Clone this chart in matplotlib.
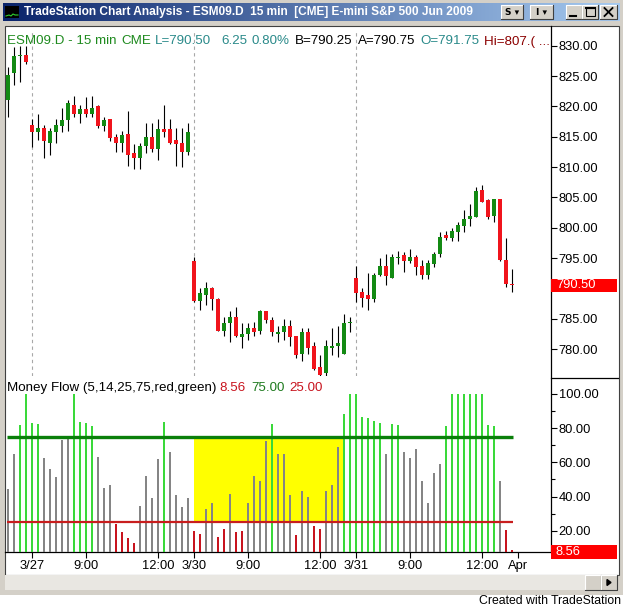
"""TradeStation screenshot: ESM09 15 min candles + Money Flow histogram."""
import matplotlib
matplotlib.use("Agg")
import matplotlib.pyplot as plt
import numpy as np
from matplotlib.patches import Rectangle

W, H = 623, 608
plt.rcParams["font.family"] = ["Liberation Sans", "DejaVu Sans"]

# ── data ───────────────────────────────────────────────────────────────────
opens = [821.0, 825.5, 828.25, 828.5,
         817.0, 815.75, 816.5, 814.0, 815.75, 816.75, 817.75, 820.25, 818.75, 819.5,
         818.75, 820.0, 816.75, 818.0, 815.0, 814.0, 815.5, 812.25, 811.5, 813.5,
         815.0, 813.0, 816.25, 816.25, 814.5, 814.0, 812.5,
         794.5, 788.0, 789.0, 790.0, 788.25, 783.0, 784.25, 785.25, 782.0, 782.5,
         783.5, 783.0, 786.25, 784.75, 782.5, 782.75, 783.75, 782.25, 779.25, 782.75,
         780.5, 777.0, 776.0, 780.25, 780.5, 779.25, 784.25,
         791.75, 789.5, 789.0, 788.25, 792.25, 793.75, 791.75, 795.0, 795.5, 794.5,
         795.25, 793.75, 792.25, 794.0, 795.75, 798.75, 798.25, 799.25, 800.25, 801.5,
         801.75, 806.25, 804.5, 802.0, 804.75, 794.75, 790.75]
highs = [826.5, 829.75, 830.0, 830.0,
         818.0, 818.75, 817.0, 816.5, 818.0, 819.75, 821.0, 821.75, 820.25, 821.5,
         821.75, 820.25, 818.25, 818.0, 815.5, 816.0, 819.25, 813.75, 814.0, 817.25,
         817.25, 818.0, 820.25, 818.0, 816.5, 816.5, 817.25,
         795.25, 790.0, 791.0, 790.25, 788.5, 785.25, 786.25, 787.0, 784.25, 784.25,
         784.5, 786.5, 786.25, 785.25, 783.75, 785.0, 784.75, 782.25, 783.5, 783.5,
         781.25, 779.0, 781.5, 783.5, 783.75, 785.75, 785.25,
         793.75, 790.0, 792.5, 792.5, 795.0, 795.75, 795.75, 796.25, 796.0, 796.5,
         795.5, 794.75, 794.75, 796.0, 799.25, 799.5, 800.0, 801.0, 803.0, 804.0,
         806.75, 807.0, 804.75, 804.75, 804.75, 798.25, 793.25]
lows = [818.25, 823.5, 824.0, 827.0,
        813.25, 814.5, 811.5, 812.0, 814.0, 815.75, 816.0, 818.25, 817.25, 818.25,
        818.25, 816.5, 816.0, 814.25, 812.5, 812.5, 810.25, 809.75, 809.75, 812.25,
        812.5, 811.25, 815.0, 813.75, 810.25, 810.0, 812.0,
        787.75, 786.5, 787.25, 786.5, 783.0, 782.25, 781.25, 782.0, 780.25, 781.5,
        782.25, 782.5, 784.25, 782.25, 781.25, 781.5, 780.5, 778.5, 778.0, 779.25,
        776.5, 775.5, 775.5, 779.0, 778.75, 779.25, 782.75,
        787.75, 787.0, 786.5, 787.75, 792.0, 790.5, 791.75, 794.0, 792.75, 794.25,
        792.25, 791.5, 791.5, 793.5, 795.25, 798.0, 797.75, 797.75, 799.25, 800.25,
        801.75, 804.25, 801.5, 801.0, 794.5, 790.25, 789.5]
closes = [825.25, 828.25, 828.5, 827.25,
          815.75, 816.5, 814.25, 816.0, 817.0, 817.75, 820.5, 818.75, 819.5, 818.75,
          819.75, 816.75, 817.75, 814.75, 814.0, 815.25, 812.0, 811.5, 813.5, 815.0,
          813.0, 816.25, 815.75, 814.0, 813.75, 812.5, 815.75,
          788.0, 789.25, 790.0, 788.25, 783.0, 784.25, 785.25, 782.25, 782.5, 783.5,
          782.75, 786.25, 784.75, 782.75, 782.75, 783.75, 782.0, 779.0, 782.75, 780.25,
          776.75, 775.75, 780.5, 780.5, 781.0, 784.25, 784.5,
          789.25, 788.5, 788.25, 792.25, 793.75, 792.0, 795.25, 795.25, 794.5, 795.25,
          793.5, 792.25, 794.25, 795.75, 798.5, 798.25, 799.5, 800.5, 801.5, 802.0,
          806.0, 804.25, 801.75, 804.75, 794.75, 790.75, 790.5]
money_flow = [44.4, 65.1, 81.9, 100.0,
              83.0, 82.4, 62.8, 56.1, 51.6, 73.1, 74.6, 100.0, 83.6, 83.0,
              81.3, 63.3, 45.0, 47.0, 23.7, 19.4, 15.6, 12.8, 34.5, 52.2,
              39.2, 62.0, 83.6, 66.1, 41.1, 33.9, 39.2,
              20.0, 18.1, 32.7, 36.4, 16.3, 21.0, 41.5, 19.3, 19.8, 36.2,
              52.2, 49.1, 72.5, 82.3, 64.9, 64.9, 40.9, 17.5, 43.3, 39.7,
              22.8, 21.0, 43.3, 47.0, 69.0, 88.3, 100.0,
              100.0, 86.5, 86.0, 84.4, 83.0, 64.9, 82.4, 81.9, 66.1, 62.8,
              67.8, 49.1, 36.4, 53.8, 59.0, 81.3, 100.0, 100.0, 100.0, 100.0,
              100.0, 100.0, 81.9, 81.3, 49.1, 20.4, 8.56]
session_starts = [4, 31, 58]
time_ticks = [4, 13, 25, 31, 40, 52, 58, 67, 79, 85]
time_labels = ["3/27", "9:00", "12:00", "3/30", "9:00", "12:00", "3/31", "9:00", "12:00", "Apr"]
price_ticks = [780, 785, 790, 795, 800, 805, 810, 815, 820, 825, 830]
mf_ticks = [20, 40, 60, 80, 100]
mf_minor = [30, 50, 70, 90]
overbought, oversold = 75, 25
last_price, last_mf = 790.50, 8.56

# ── colours ────────────────────────────────────────────────────────────────
CANDLE_UP = "#138a13"
CANDLE_DN = "#f0141c"
MF_UP = "#3ad93a"
MF_DN = "#c8141e"
MF_MID = "#858585"
FRAME = "#d4d0c8"


def px_axes(fig, x0, y0, x1, y1, **kw):
    """Axes placed by pixel box (top-left origin)."""
    return fig.add_axes([x0 / W, 1 - y1 / H, (x1 - x0) / W, (y1 - y0) / H], **kw)


def button(ax, x0, y0, x1, y1, label="", size=8, bold=False):
    ax.add_patch(Rectangle((x0, y0), x1 - x0, y1 - y0, facecolor=FRAME,
                           edgecolor="none", zorder=3))
    ax.plot([x0, x0, x1], [y1, y0, y0], color="white", lw=0.8, zorder=4)
    ax.plot([x0, x1, x1], [y1, y1, y0], color="#404040", lw=0.8, zorder=4)
    if label:
        ax.text((x0 + x1) / 2, (y0 + y1) / 2 + 0.5, label, ha="center", va="center",
                fontsize=size, fontweight="bold" if bold else "normal", zorder=5,
                family=["DejaVu Sans"])


def main() -> None:
    fig = plt.figure(figsize=(W / 100, H / 100), dpi=100)

    # ── window chrome ──────────────────────────────────────────────────────
    bg = px_axes(fig, 0, 0, W, H, zorder=0)
    bg.set_xlim(0, W)
    bg.set_ylim(H, 0)
    bg.axis("off")
    bg.add_patch(Rectangle((0, 0), W, 595, facecolor=FRAME, edgecolor="none"))
    grad = np.linspace(0, 1, 256)[None, :, None]
    c0 = np.array([10, 36, 106]) / 255
    c1 = np.array([166, 202, 240]) / 255
    bg.imshow(c0 + (c1 - c0) * grad, extent=(3, 620, 21, 3), aspect="auto", zorder=1)
    # little chart icon
    bg.add_patch(Rectangle((5, 6), 14, 12, facecolor="black", zorder=2))
    bg.plot([6, 9, 11, 13, 15, 18], [16, 15, 16, 14, 15, 15], color="#30d030", lw=0.8, zorder=3)
    bg.text(24, 12.5, "TradeStation Chart Analysis - ESM09.D  15 min  [CME] E-mini S&P 500 Jun 2009",
            color="white", fontsize=8.6, fontweight="bold", va="center", zorder=3)
    button(bg, 501, 5, 523, 19, "S \u25be", 6.5, True)
    button(bg, 530, 5, 553, 19, "I \u25be", 6.5, True)
    button(bg, 566, 5, 582, 19)
    bg.plot([570, 576], [15.5, 15.5], color="black", lw=1.5, zorder=5)
    button(bg, 582, 5, 598, 19)
    bg.add_patch(Rectangle((585.5, 7.5), 9, 8.5, facecolor="none", edgecolor="black",
                           lw=0.8, zorder=5))
    bg.plot([585.5, 594.5], [8.3, 8.3], color="black", lw=1.5, zorder=5)
    button(bg, 600, 5, 617, 19)
    bg.plot([604.5, 612.5], [8, 16], color="black", lw=1.3, zorder=5)
    bg.plot([604.5, 612.5], [16, 8], color="black", lw=1.3, zorder=5)

    # chart area
    bg.add_patch(Rectangle((4.5, 25.5), 614, 549, facecolor="white",
                           edgecolor="#404040", lw=0.8, zorder=1))
    # scrollbar
    bg.add_patch(Rectangle((5, 575), 613, 15, facecolor="#e9e7e2", edgecolor="none",
                           hatch="....", zorder=1))
    button(bg, 585, 575, 601, 590)
    button(bg, 601, 575, 617, 590)
    bg.fill([607, 607, 611], [579.5, 585.5, 582.5], color="black", zorder=5)
    bg.text(621, 601, "Created with TradeStation", ha="right", va="center",
            fontsize=8.8, color="black")

    # axis lines of the chart (scale column and bottom time axis)
    bg.plot([551, 551], [26, 552], color="black", lw=0.9, zorder=3)
    bg.plot([5, 551], [552, 552], color="black", lw=0.9, zorder=3)
    bg.plot([551, 618], [377.5, 377.5], color="black", lw=0.9, zorder=3)

    x = np.arange(len(closes))
    o, hi, lo, c = (np.array(v) for v in (opens, highs, lows, closes))

    # ── price panel ────────────────────────────────────────────────────────
    ax = px_axes(fig, 5, 30, 551, 376, zorder=2)
    ax.patch.set_alpha(0)
    ax.set_xlim(-0.5, 90.5)
    ax.set_ylim(775.58, 832.59)
    for s in session_starts:
        ax.axvline(s, color="#a8a8a8", lw=0.8, ls=(0, (3, 3)), zorder=1)
    up = c >= o
    ax.vlines(x, lo, hi, color="black", lw=0.8, zorder=2)
    body = np.maximum(np.abs(c - o), 0.17)
    ax.bar(x, body, bottom=np.minimum(o, c), width=0.82, linewidth=0,
           color=np.where(up, CANDLE_UP, CANDLE_DN), zorder=3)
    for sp in ax.spines.values():
        sp.set_visible(False)
    ax.set_xticks([])
    ax.yaxis.tick_right()
    ax.set_yticks(price_ticks)
    # the last-price box hides the 790 label
    ax.set_yticklabels(["" if abs(p - last_price) < 2.5 else f"{p:.2f}" for p in price_ticks])
    ax.tick_params(axis="y", direction="out", length=4, width=0.8, pad=1.5, labelsize=9.3)

    # ── money flow panel ───────────────────────────────────────────────────
    ax2 = px_axes(fig, 5, 378, 551, 552, zorder=2)
    ax2.patch.set_alpha(0)
    ax2.set_xlim(-0.5, 90.5)
    ax2.set_ylim(7.55, 109.36)
    ax2.add_patch(Rectangle((31, oversold), 24.8, overbought - oversold,
                            facecolor="#ffff00", edgecolor="none", zorder=1))
    mf = np.array(money_flow)
    cols = np.where(mf > overbought, MF_UP, np.where(mf < oversold, MF_DN, MF_MID))
    widths = np.where(mf > overbought, 0.47, 0.4)
    ax2.bar(x, mf, width=widths, color=cols, linewidth=0, zorder=2)
    ax2.plot([-0.2, 84.2], [overbought] * 2, color="#0a7f0a", lw=2.4, zorder=3,
             solid_capstyle="butt")
    ax2.plot([-0.2, 84.2], [oversold] * 2, color="#c81e1e", lw=1.6, zorder=3,
             solid_capstyle="butt")
    for sp in ax2.spines.values():
        sp.set_visible(False)
    ax2.yaxis.tick_right()
    ax2.set_yticks(mf_ticks)
    ax2.set_yticklabels([f"{v:.2f}" for v in mf_ticks])
    ax2.set_yticks(mf_minor, minor=True)
    ax2.tick_params(axis="y", which="major", direction="out", length=4, width=0.8,
                    pad=1.5, labelsize=9.3)
    ax2.tick_params(axis="y", which="minor", direction="out", length=3, width=0.8)
    ax2.set_xticks(time_ticks)
    ax2.set_xticklabels(time_labels)
    ax2.tick_params(axis="x", direction="out", length=4, width=0.8, pad=2, labelsize=9.3)

    # ── overlay texts and value boxes ──────────────────────────────────────
    fr = px_axes(fig, 0, 0, W, H, zorder=5)
    fr.set_xlim(0, W)
    fr.set_ylim(H, 0)
    fr.axis("off")
    fr.patch.set_alpha(0)
    header = [(7, "ESM09.D - 15 min", "#1e8a1e"), (121, "CME", "#1e8a1e"),
              (155, "L=790.50", "#2a8a8a"), (221, "6.25", "#2a8a8a"),
              (252, "0.80%", "#2a8a8a"), (295, "B=790.25", "black"),
              (358, "A=790.75", "black"), (420, "O=791.75", "#2a8a8a"),
              (484, "Hi=807.( ...", "#8b0000")]
    for xp, txt, col in header:
        fr.text(xp, 44.5, txt, color=col, fontsize=9.6, va="baseline")
    mf_head = [(7, "Money Flow (5,14,25,75,red,green)", "black"),
               (219, "8.56", MF_DN), (251, "75.00", "#1e7a1e"), (289, "25.00", MF_DN)]
    for xp, txt, col in mf_head:
        fr.text(xp, 391, txt, color=col, fontsize=9.6, va="baseline")
    y_last = 45.7 + (830 - last_price) * 6.07
    fr.add_patch(Rectangle((551, y_last - 6.5), 66, 13, facecolor="#ff0000", edgecolor="none"))
    fr.text(556, y_last, f"{last_price:.2f}", color="white", fontsize=9.3, va="center")
    fr.add_patch(Rectangle((551, 545), 66, 14, facecolor="#ff0000", edgecolor="none"))
    fr.text(556, 552, f"{last_mf:.2f}", color="white", fontsize=9.3, va="center")

    fig.savefig("out.png", dpi=100)
    plt.close(fig)


if __name__ == "__main__":
    main()
